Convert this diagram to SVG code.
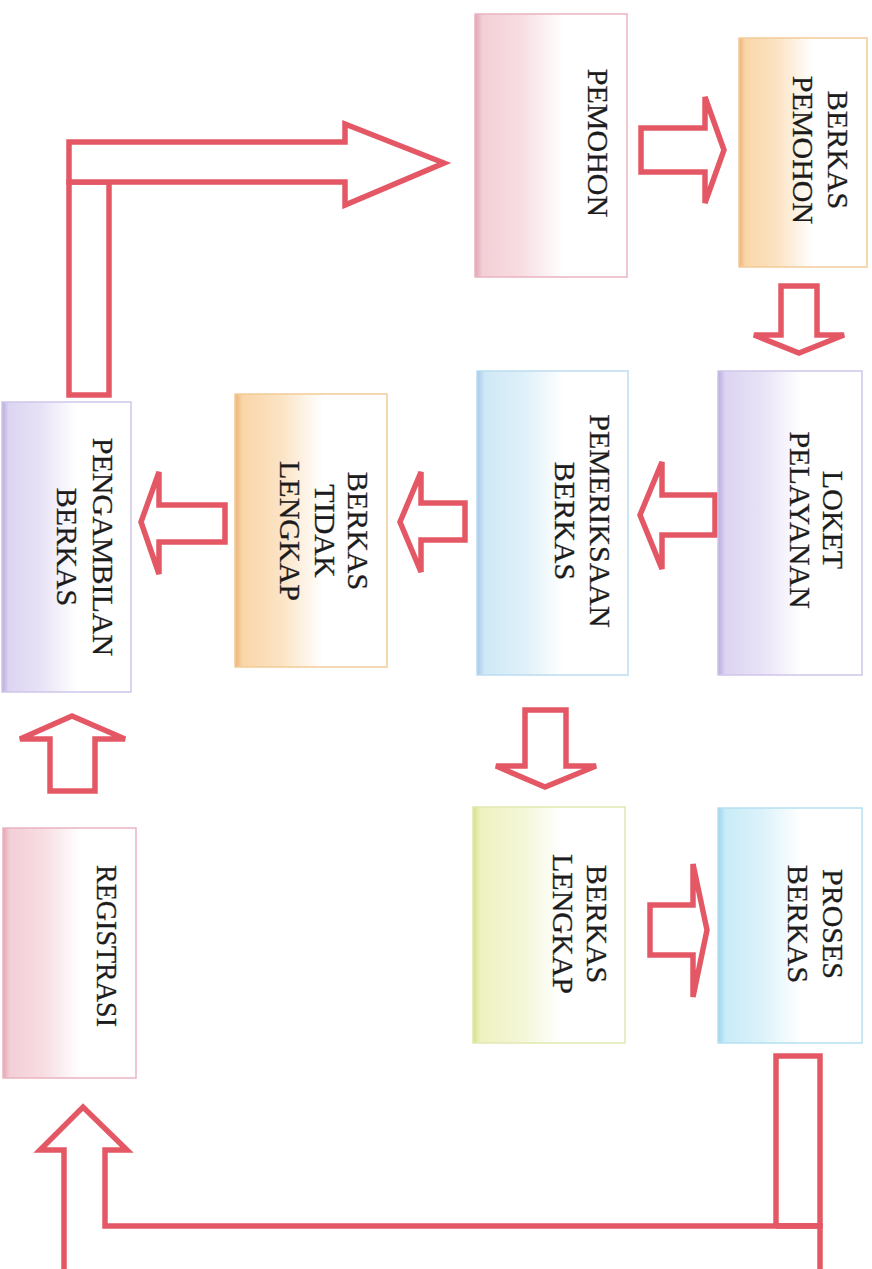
<svg xmlns="http://www.w3.org/2000/svg" width="872" height="1269" viewBox="0 0 872 1269">
  <defs>
    <linearGradient id="gPink" x1="0" y1="0" x2="1" y2="0">
      <stop offset="0" stop-color="#e2a4b2"/>
      <stop offset="0.05" stop-color="#f3cfd6"/>
      <stop offset="0.3" stop-color="#f7dde2"/>
      <stop offset="0.58" stop-color="#ffffff"/>
    </linearGradient>
    <linearGradient id="gOrange" x1="0" y1="0" x2="1" y2="0">
      <stop offset="0" stop-color="#eeb27a"/>
      <stop offset="0.05" stop-color="#f9d6a8"/>
      <stop offset="0.3" stop-color="#fbe3c4"/>
      <stop offset="0.58" stop-color="#ffffff"/>
    </linearGradient>
    <linearGradient id="gPurple" x1="0" y1="0" x2="1" y2="0">
      <stop offset="0" stop-color="#b8acdc"/>
      <stop offset="0.05" stop-color="#dcd4f2"/>
      <stop offset="0.3" stop-color="#e8e2f6"/>
      <stop offset="0.58" stop-color="#ffffff"/>
    </linearGradient>
    <linearGradient id="gBlue" x1="0" y1="0" x2="1" y2="0">
      <stop offset="0" stop-color="#a8c8e8"/>
      <stop offset="0.05" stop-color="#cfe8f6"/>
      <stop offset="0.3" stop-color="#def0f9"/>
      <stop offset="0.58" stop-color="#ffffff"/>
    </linearGradient>
    <linearGradient id="gLime" x1="0" y1="0" x2="1" y2="0">
      <stop offset="0" stop-color="#d6e08c"/>
      <stop offset="0.05" stop-color="#eef2c0"/>
      <stop offset="0.3" stop-color="#f3f6d4"/>
      <stop offset="0.58" stop-color="#ffffff"/>
    </linearGradient>
    <linearGradient id="gCyan" x1="0" y1="0" x2="1" y2="0">
      <stop offset="0" stop-color="#9cd4ec"/>
      <stop offset="0.05" stop-color="#c8ecf8"/>
      <stop offset="0.3" stop-color="#dbf2fa"/>
      <stop offset="0.58" stop-color="#ffffff"/>
    </linearGradient>
  </defs>
  <style>
    .box { stroke-width: 1.5; }
    .pink { fill: url(#gPink); stroke: #eab4c0; }
    .orange { fill: url(#gOrange); stroke: #f2cc98; }
    .purple { fill: url(#gPurple); stroke: #cfc6ea; }
    .blue { fill: url(#gBlue); stroke: #bcdcf0; }
    .lime { fill: url(#gLime); stroke: #e2e8b0; }
    .cyan { fill: url(#gCyan); stroke: #b4e0f0; }
    .lbl { font-family: "Liberation Serif", "Times New Roman", serif; font-size: 30px; fill: #1c1c1c; stroke: #1c1c1c; stroke-width: 0.3; text-anchor: middle; }
    .arrow { fill: #ffffff; stroke: #e45866; stroke-width: 5.5; stroke-linejoin: miter; }
    .line { fill: none; stroke: #e45866; stroke-width: 5.5; }
  </style>

  <rect width="872" height="1269" fill="#ffffff"/>

  <!-- connectors -->
  <g id="connectors">
    <!-- pemohon to berkas pemohon -->
    <path class="arrow" d="M641,128 H705 V97 L724,150 L705,203 V172 H641 Z"/>
    <!-- berkas pemohon to loket -->
    <path class="arrow" d="M781,286 H817 V335 H844 L799,353 L754,335 H781 Z"/>
    <!-- loket to pemeriksaan -->
    <path class="arrow" d="M715,495 V535 H662 V569 L640,515 L662,462 V495 Z"/>
    <!-- pemeriksaan to berkas tidak lengkap -->
    <path class="arrow" d="M465,503 V540 H421 V572 L400,522 L421,472 V503 Z"/>
    <!-- berkas tidak lengkap to pengambilan -->
    <path class="arrow" d="M225,505 V542 H159 V574 L141,522 L159,472 V505 Z"/>
    <!-- pemeriksaan to berkas lengkap -->
    <path class="arrow" d="M525,710 H566 V766 H596 L545,787 L496,766 H525 Z"/>
    <!-- berkas lengkap to proses -->
    <path class="arrow" d="M650,905 H693 V864 L707,930 L693,997 V955 H650 Z"/>
    <!-- registrasi to pengambilan -->
    <path class="arrow" d="M50,791 V739 H20 L72,716 L125,739 H95 V791 Z"/>
    <!-- pengambilan back to pemohon -->
    <rect class="arrow" x="69" y="182" width="40" height="213"/>
    <path class="arrow" d="M69,142 H345 V124 L444,163 L345,205 V182 H69 Z"/>
    <!-- proses back round to registrasi -->
    <rect class="arrow" x="776" y="1056" width="44" height="170"/>
    <path class="arrow" d="M64,1290 V1150 H40 L83,1107 L127,1150 H105 V1226 H820 V1290"/>
    <path class="line" d="M776,1226 H820"/>
  </g>

  <g id="pemohon">
    <rect class="box pink" x="475" y="14" width="152" height="263"/>
    <text class="lbl" transform="translate(588,143) rotate(90)"><tspan x="0" y="0">PEMOHON</tspan></text>
  </g>

  <g id="berkas-pemohon">
    <rect class="box orange" x="739" y="38" width="128" height="229"/>
    <text class="lbl" transform="translate(828,150) rotate(90)"><tspan x="0" y="0">BERKAS</tspan><tspan x="0" y="35">PEMOHON</tspan></text>
  </g>

  <g id="loket-pelayanan">
    <rect class="box purple" x="718" y="371" width="144" height="304"/>
    <text class="lbl" transform="translate(823,520) rotate(90)"><tspan x="0" y="0">LOKET</tspan><tspan x="0" y="33">PELAYANAN</tspan></text>
  </g>

  <g id="pemeriksaan-berkas">
    <rect class="box blue" x="477" y="371" width="151" height="304"/>
    <text class="lbl" transform="translate(590,521) rotate(90)"><tspan x="0" y="0">PEMERIKSAAN</tspan><tspan x="0" y="35">BERKAS</tspan></text>
  </g>

  <g id="berkas-tidak-lengkap">
    <rect class="box orange" x="235" y="394" width="152" height="273"/>
    <text class="lbl" transform="translate(348,531) rotate(90)"><tspan x="0" y="0">BERKAS</tspan><tspan x="0" y="33">TIDAK</tspan><tspan x="0" y="68">LENGKAP</tspan></text>
  </g>

  <g id="pengambilan-berkas">
    <rect class="box purple" x="2" y="402" width="129" height="290"/>
    <text class="lbl" transform="translate(93,547) rotate(90)"><tspan x="0" y="0">PENGAMBILAN</tspan><tspan x="0" y="36">BERKAS</tspan></text>
  </g>

  <g id="berkas-lengkap">
    <rect class="box lime" x="473" y="807" width="152" height="236"/>
    <text class="lbl" transform="translate(587,924) rotate(90)"><tspan x="0" y="0">BERKAS</tspan><tspan x="0" y="34">LENGKAP</tspan></text>
  </g>

  <g id="proses-berkas">
    <rect class="box cyan" x="718" y="808" width="144" height="235"/>
    <text class="lbl" transform="translate(823,924) rotate(90)"><tspan x="0" y="0">PROSES</tspan><tspan x="0" y="35">BERKAS</tspan></text>
  </g>

  <g id="registrasi">
    <rect class="box pink" x="3" y="828" width="133" height="250"/>
    <text class="lbl" transform="translate(97,946) rotate(90)" textLength="162" lengthAdjust="spacingAndGlyphs">REGISTRASI</text>
  </g>
</svg>
